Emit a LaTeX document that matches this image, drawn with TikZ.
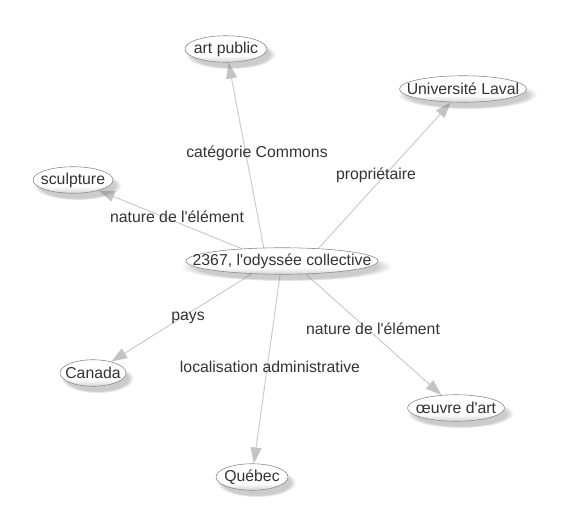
\documentclass[tikz,border=0pt]{standalone}
\usepackage{fontspec}
\setmainfont{Liberation Sans}[Ligatures=TeXOff]
\usetikzlibrary{shapes.geometric,arrows.meta,shadows,fadings,backgrounds}
\definecolor{txt}{HTML}{333333}
\definecolor{edge}{HTML}{CCCCCC}
\definecolor{headc}{HTML}{C4C4C4}
\definecolor{rim}{HTML}{8C8C8C}
\pgfdeclareverticalshading{entshade}{100bp}{color(0bp)=(black!17); color(25bp)=(black!17); color(38bp)=(white); color(100bp)=(white)}
\newcommand{\zt}[1]{\makebox[0pt]{#1}}
\tikzset{
  ent/.style={ellipse, draw=rim, line width=0.6pt, inner sep=0pt,
    minimum height=26.5pt, shading=entshade,
    circular drop shadow={shadow xshift=4pt, shadow yshift=-5pt, shadow scale=1.1, opacity=0.4},
    text=txt, font=\fontsize{15.8pt}{19pt}\selectfont},
  lab/.style={text=txt, font=\fontsize{15.8pt}{19pt}\selectfont, inner sep=0pt,
    text height=0.72em, text depth=0.2em},
  rel/.style={draw=edge, line width=1pt,
    -{Triangle[length=16pt, width=11pt, fill=headc, color=headc]}}
}
\begin{document}
\begin{tikzpicture}[x=1pt, y=-1pt]
\useasboundingbox (0,0) rectangle (579,525);
\node[ent, minimum width=192pt] (c) at (282,261) {\zt{2367, l'odyssée collective}};
\node[ent, minimum width=82pt] (ap) at (226,49) {\zt{art public}};
\node[ent, minimum width=127pt] (ul) at (463,89) {\zt{Université Laval}};
\node[ent, minimum width=80pt] (sc) at (73,180) {\zt{sculpture}};
\node[ent, minimum width=66pt] (ca) at (93,373) {\zt{Canada}};
\node[ent, minimum width=72pt] (qc) at (252,477) {\zt{Québec}};
\node[ent, minimum width=97pt] (oa) at (456,408) {\zt{œuvre d'art}};
\begin{pgfonlayer}{background}
\draw[rel] (c.144) -- (ap);
\draw[rel] (c.19) -- (ul);
\draw[rel] (c.163) -- (sc);
\draw[rel] (c.203) -- (ca);
\draw[rel] (c.262) -- (qc);
\draw[rel] (c.331) -- (oa);
\end{pgfonlayer}
\node[lab] (l1) at (257,155) {catégorie Commons};
\node[lab] (l2) at (376,177) {propriétaire};
\node[lab] (l3) at (177,220) {nature de l'élément};
\node[lab] (l4) at (188,318) {pays};
\node[lab] (l5) at (270,370) {localisation administrative};
\node[lab] (l6) at (373,332) {nature de l'élément};
\end{tikzpicture}
\end{document}
